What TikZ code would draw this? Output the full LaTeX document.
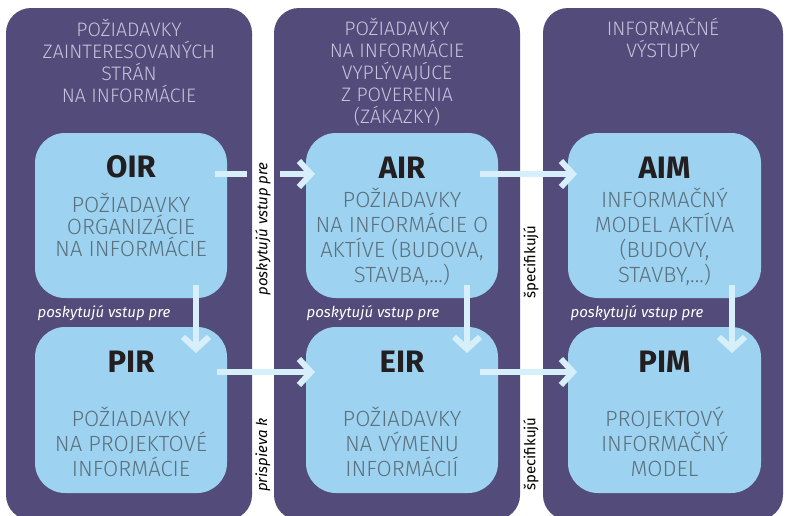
\documentclass[tikz,border=0pt]{standalone}
\usepackage{fontspec}
\setmainfont{Fira Sans}
\newfontfamily\lightf{Fira Sans Light}
\usetikzlibrary{arrows.meta}
\definecolor{colbg}{RGB}{83,75,122}
\definecolor{headc}{RGB}{200,195,220}
\definecolor{boxc}{RGB}{157,211,240}
\definecolor{boxtxt}{RGB}{92,112,126}
\definecolor{titc}{RGB}{35,31,32}
\definecolor{arrc}{RGB}{214,239,250}
\tikzset{
  colbox/.style={fill=colbg, rounded corners=25pt},
  infobox/.style={fill=boxc, rounded corners=30pt, minimum width=192pt, minimum height=165pt, inner sep=0pt},
  headtxt/.style={text=headc, align=center, font=\lightf\fontsize{19.5}{22}\selectfont, inner sep=0pt},
  boxtitle/.style={text=titc, font=\bfseries\fontsize{31}{31}\selectfont, inner sep=0pt},
  boxsub/.style={text=boxtxt, align=center, font=\lightf\fontsize{22}{#1}\selectfont, inner sep=0pt},
  boxsub/.default=25,
  purplelab/.style={text=white, font=\itshape\fontsize{15}{15}\selectfont, inner sep=0pt},
  striplab/.style={text=black, rotate=90, font=\fontsize{15}{15}\selectfont, inner sep=0pt},
  flow/.style={draw=arrc, line width=6pt},
  flowarrow/.style={flow, -{Straight Barb[length=12pt,width=26pt]}}
}
\begin{document}
\begin{tikzpicture}[x=1pt,y=-1pt]
\useasboundingbox (0,0) rectangle (787,515);
\fill[white] (0,0) rectangle (787,515);
\begin{scope}
\clip (0,0) rectangle (787,515);
\fill[colbox] (6,8) rectangle (252,520);
\fill[colbox] (274,8) rectangle (520,520);
\fill[colbox] (543,8) rectangle (783,520);
\end{scope}

% headers
\node[headtxt] (h1) at (129,61) {POŽIADAVKY\\ZAINTERESOVANÝCH\\STRÁN\\NA INFORMÁCIE};
\node[headtxt] (h2) at (397,72) {POŽIADAVKY\\NA INFORMÁCIE\\VYPLÝVAJÚCE\\Z POVERENIA\\(ZÁKAZKY)};
\node[headtxt] (h3) at (663,38) {INFORMAČNÉ\\VÝSTUPY};

% boxes
\node[infobox] (OIR) at (131,215.5) {};
\node[infobox] (AIR) at (402,215.5) {};
\node[infobox, minimum width=193pt] (AIM) at (664.5,215.5) {};
\node[infobox, minimum height=166pt] (PIR) at (131,410) {};
\node[infobox, minimum height=166pt] (EIR) at (402,410) {};
\node[infobox, minimum width=193pt, minimum height=166pt] (PIM) at (664.5,410) {};

\node[boxtitle] (tOIR) at (131,167) {OIR};
\node[boxtitle] (tAIR) at (402,168) {AIR};
\node[boxtitle] (tAIM) at (664.5,168) {AIM};
\node[boxtitle] (tPIR) at (131,362) {PIR};
\node[boxtitle] (tEIR) at (402,362) {EIR};
\node[boxtitle] (tPIM) at (664.5,362) {PIM};

\node[boxsub=22] (sOIR) at (131,225) {POŽIADAVKY\\ORGANIZÁCIE\\NA INFORMÁCIE};
\node[boxsub] (sAIR) at (402,237) {POŽIADAVKY\\NA INFORMÁCIE O\\AKTÍVE (BUDOVA,\\STAVBA,...)};
\node[boxsub] (sAIM) at (664.5,237) {INFORMAČNÝ\\MODEL AKTÍVA\\(BUDOVY,\\STAVBY,...)};
\node[boxsub] (sPIR) at (131,442) {POŽIADAVKY\\NA PROJEKTOVÉ\\INFORMÁCIE};
\node[boxsub] (sEIR) at (402,442) {POŽIADAVKY\\NA VÝMENU\\INFORMÁCIÍ};
\node[boxsub] (sPIM) at (664.5,442) {PROJEKTOVÝ\\INFORMAČNÝ\\MODEL};

% arrow end points
\coordinate (a1s) at (215,174); \coordinate (a1m) at (247,174);
\coordinate (a1n) at (280,174); \coordinate (a1e) at (315,174);
\coordinate (a2s) at (480,174); \coordinate (a2e) at (577,174);
\coordinate (a3s) at (217,372); \coordinate (a3e) at (315,372);
\coordinate (a4s) at (480,372); \coordinate (a4e) at (577,372);
\coordinate (v1s) at (196,285); \coordinate (v1e) at (196,353);
\coordinate (v2s) at (467,285); \coordinate (v2e) at (467,353);
\coordinate (v3s) at (732,285); \coordinate (v3e) at (732,353);

\draw[flow] (a1s) -- (a1m);
\draw[flowarrow] (a1n) -- (a1e);
\draw[flowarrow] (a2s) -- (a2e);
\draw[flowarrow] (a3s) -- (a3e);
\draw[flowarrow] (a4s) -- (a4e);
\draw[flowarrow] (v1s) -- (v1e);
\draw[flowarrow] (v2s) -- (v2e);
\draw[flowarrow] (v3s) -- (v3e);

% labels
\node[purplelab] (l1) at (104,313) {poskytujú vstup pre};
\node[purplelab] (l2) at (373,313) {poskytujú vstup pre};
\node[purplelab] (l3) at (637,313) {poskytujú vstup pre};
\node[striplab, font=\itshape\fontsize{15}{15}\selectfont] (s1) at (263,229) {poskytujú vstup pre};
\node[striplab, font=\itshape\fontsize{15}{15}\selectfont] (s2) at (263,455) {prispieva k};
\node[striplab] (s3) at (531,262) {špecifikujú};
\node[striplab] (s4) at (531,454) {špecifikujú};
\end{tikzpicture}
\end{document}
